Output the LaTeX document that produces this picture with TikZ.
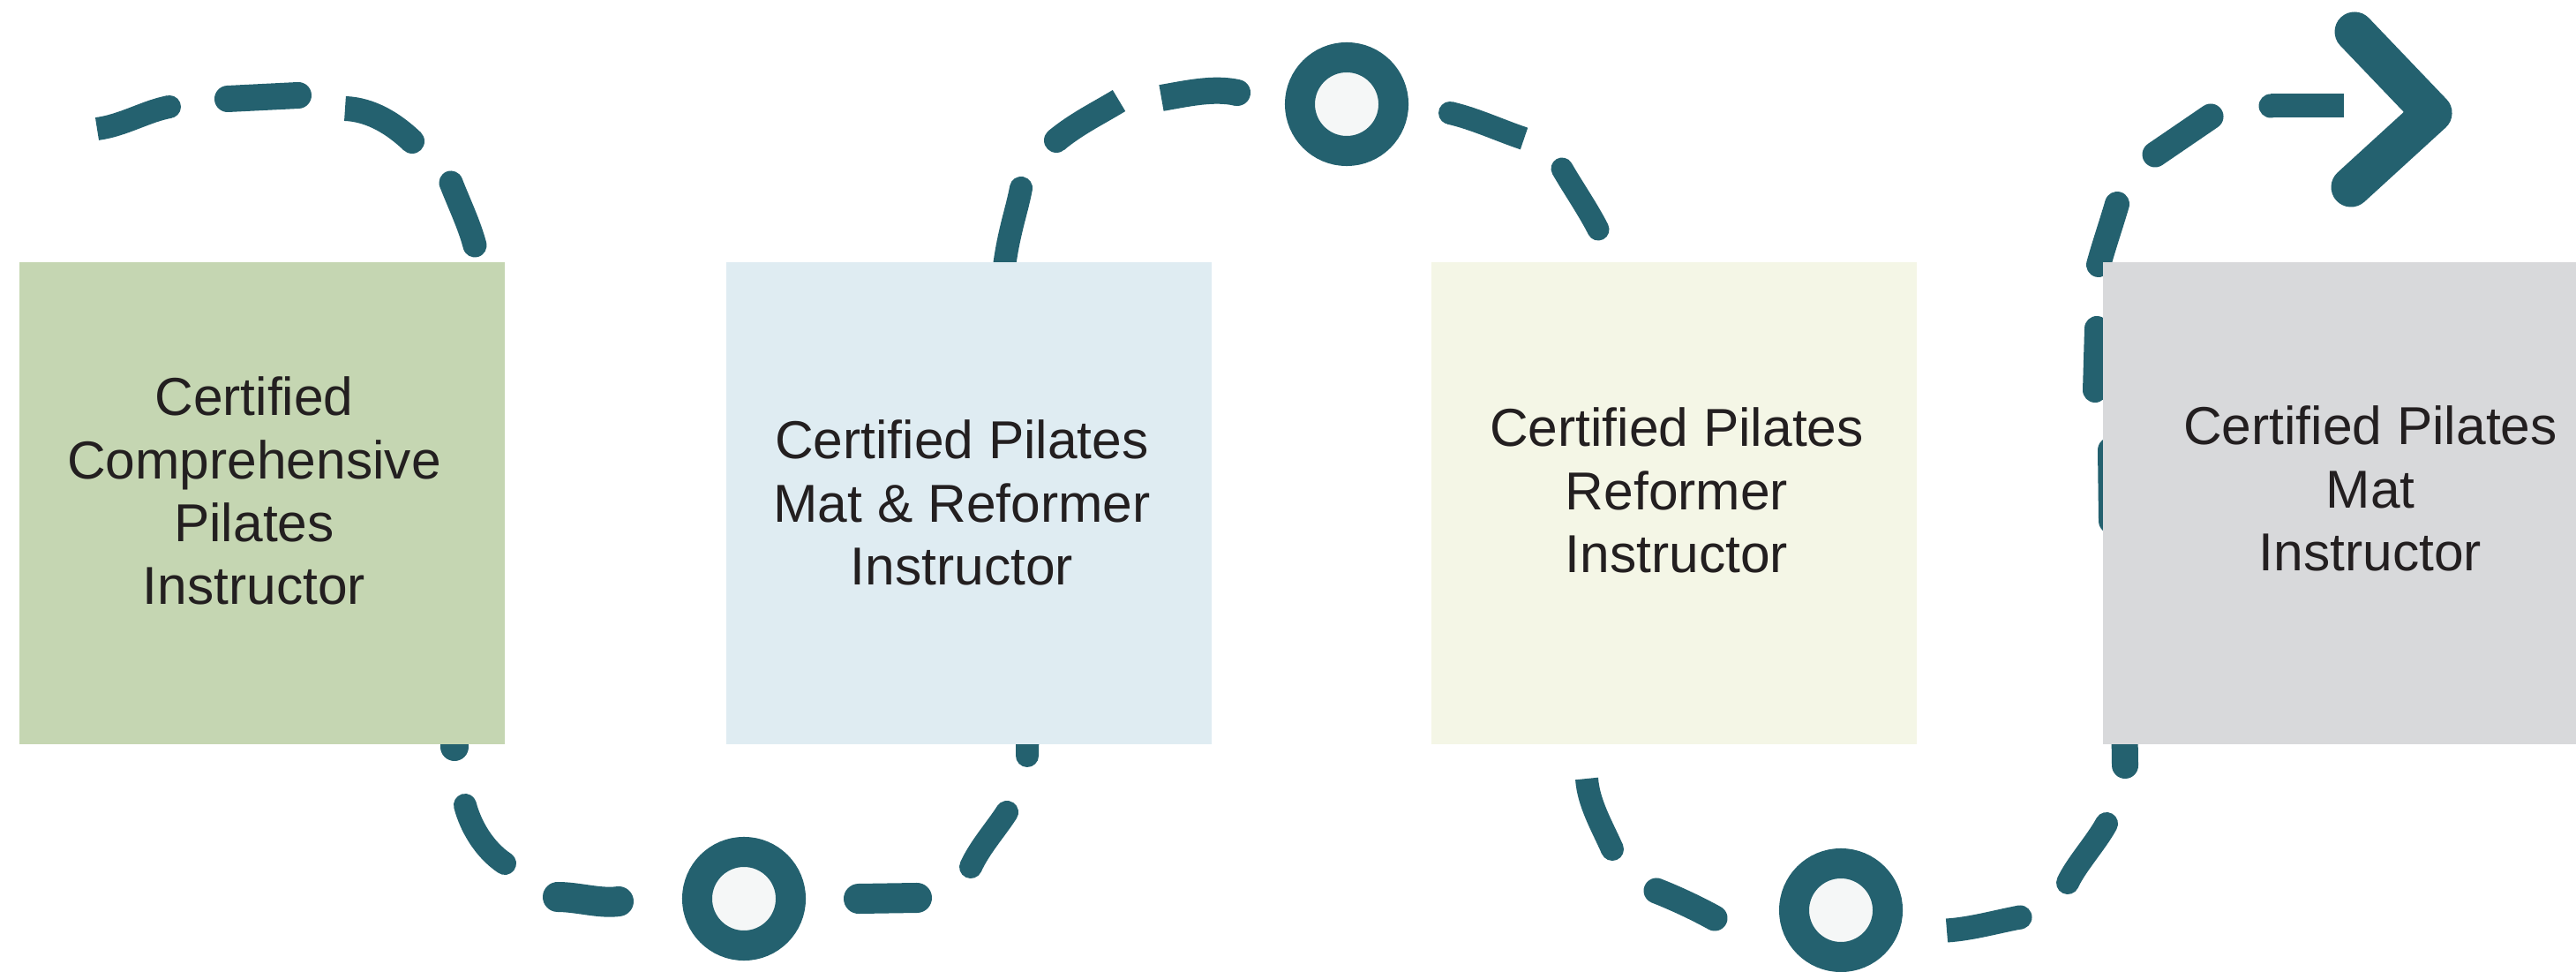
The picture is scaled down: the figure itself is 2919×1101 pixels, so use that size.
\documentclass[tikz,border=0pt]{standalone}
\usepackage{fontspec}
\setmainfont{Liberation Sans}
\definecolor{dashc}{HTML}{24616F}
\definecolor{ringin}{HTML}{F5F7F7}
\definecolor{txtc}{HTML}{231F20}
\definecolor{boxA}{HTML}{C5D6B2}
\definecolor{boxB}{HTML}{DFECF2}
\definecolor{boxC}{HTML}{F4F6E6}
\definecolor{boxD}{HTML}{D8D9DB}
\tikzset{
  seg/.style={draw=dashc, line width=0.28cm, line cap=round},
  segb/.style={draw=dashc, line width=0.28cm, line cap=butt},
  dot/.style={fill=dashc},
  ring/.style={circle, draw=dashc, fill=ringin, line width=0.34cm, minimum size=1.06cm, inner sep=0pt},
  card/.style={rectangle, draw=none, inner sep=0pt, minimum height=5.46cm},
  lbl/.style={inner sep=0pt, text=txtc, anchor=base, font=\fontsize{17.2}{20.2}\selectfont}
}
\begin{document}
\begin{tikzpicture}[x=0.01cm, y=-0.01cm]
\useasboundingbox (0,0) rectangle (2919,1101);
\fill[white] (0,0) rectangle (2919,1101);

% dashes of the winding path
\draw[segb, line width=0.26cm] (110,146) .. controls (140,142) and (165,126) .. (192,121);
\fill[dot] (192,121) circle [radius=0.13cm];
\draw[seg, line width=0.30cm] (258,112) -- (338,108);
\draw[segb, line width=0.28cm] (391,123) .. controls (420,124) and (446,140) .. (467,160);
\fill[dot] (467,160) circle [radius=0.14cm];
\draw[seg, line width=0.27cm] (511,207) .. controls (520,230) and (532,255) .. (538,278);
\draw[seg, line width=0.32cm] (515,790) -- (515,846);
\draw[seg, line width=0.26cm] (527,912) .. controls (533,935) and (548,962) .. (572,978);
\draw[seg, line width=0.34cm] (632,1016) .. controls (655,1016) and (680,1024) .. (701,1021);
\draw[seg, line width=0.34cm] (973,1018) -- (1039,1017);
\draw[seg, line width=0.26cm] (1100,982) .. controls (1110,960) and (1128,940) .. (1141,920);
\draw[seg, line width=0.26cm] (1165,800) -- (1164,856);
\draw[seg, line width=0.26cm] (1157,213) .. controls (1152,240) and (1142,265) .. (1137,310);
\draw[segb, line width=0.28cm] (1197,159) .. controls (1220,140) and (1245,128) .. (1268,114);
\fill[dot] (1197,159) circle [radius=0.14cm];
\draw[segb, line width=0.30cm] (1316,111) .. controls (1345,106) and (1375,99) .. (1402,105);
\fill[dot] (1402,105) circle [radius=0.15cm];
\draw[segb, line width=0.26cm] (1643,128) .. controls (1670,134) and (1700,148) .. (1727,157);
\fill[dot] (1643,128) circle [radius=0.13cm];
\draw[seg, line width=0.25cm] (1770,191) .. controls (1782,212) and (1800,238) .. (1811,260);
\draw[segb, line width=0.26cm] (1798,882) .. controls (1800,910) and (1815,935) .. (1827,962);
\fill[dot] (1827,962) circle [radius=0.13cm];
\draw[seg, line width=0.29cm] (1877,1009) .. controls (1900,1018) and (1925,1030) .. (1943,1040);
\draw[segb, line width=0.27cm] (2206,1054) .. controls (2235,1052) and (2262,1044) .. (2289,1039);
\fill[dot] (2289,1039) circle [radius=0.135cm];
\draw[seg, line width=0.26cm] (2343,1000) .. controls (2352,980) and (2375,955) .. (2387,933);
\draw[seg, line width=0.30cm] (2407,800) -- (2408,867);
\draw[seg, line width=0.30cm] (2392,510) -- (2393,590);
\draw[seg, line width=0.28cm] (2376,372) -- (2374,442);
\draw[seg, line width=0.28cm] (2399,231) .. controls (2392,255) and (2384,278) .. (2378,300);
\draw[seg, line width=0.29cm] (2442,175) -- (2505,132);
\draw[segb, line width=0.27cm] (2573,120) -- (2656,120);
\fill[dot] (2573,120) circle [radius=0.135cm];
% arrow head
\draw[seg, line width=0.45cm, line join=round] (2668,36) -- (2756,128) -- (2664,212);

% rings on the path
\node[ring] (o1) at (1526,118) {};
\node[ring] (o2) at (843,1018) {};
\node[ring] (o3) at (2086,1031) {};

% cards
\node[card, fill=boxA, minimum width=5.50cm] (b1) at (297,570) {};
\node[card, fill=boxB, minimum width=5.50cm] (b2) at (1098,570) {};
\node[card, fill=boxC, minimum width=5.50cm] (b3) at (1897,570) {};
\node[card, fill=boxD, minimum width=5.36cm] (b4) at (2651,570) {};

% texts
\node[lbl] (t1) at (288,471) {\begin{tabular}[t]{@{}c@{}}Certified\\Comprehensive\\Pilates\\Instructor\end{tabular}};
\node[lbl] (t2) at (1090,520) {\begin{tabular}[t]{@{}c@{}}Certified Pilates\\Mat \& Reformer\\Instructor\end{tabular}};
\node[lbl] (t3) at (1900,506) {\begin{tabular}[t]{@{}c@{}}Certified Pilates\\Reformer\\Instructor\end{tabular}};
\node[lbl] (t4) at (2686,504) {\begin{tabular}[t]{@{}c@{}}Certified Pilates\\Mat\\Instructor\end{tabular}};
\end{tikzpicture}
\end{document}
